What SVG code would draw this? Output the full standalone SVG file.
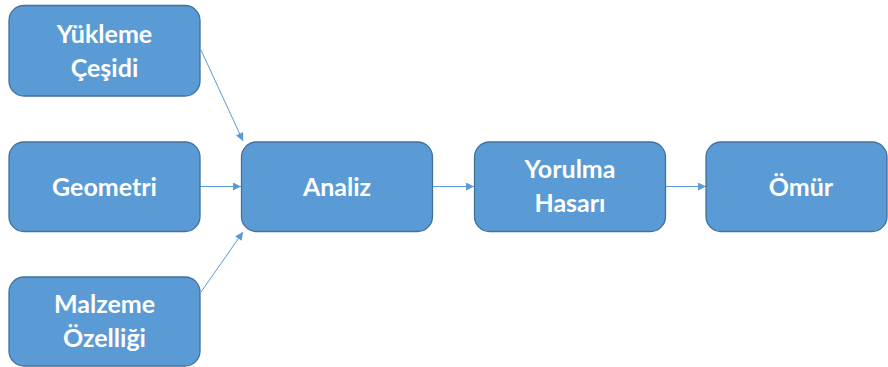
<svg xmlns="http://www.w3.org/2000/svg" width="888" height="367" viewBox="0 0 888 367">
<style>
.box{fill:#5B9BD5;stroke:#41719C;stroke-width:1.3}
.t{fill:#fff;font-family:Lato,"Open Sans","Liberation Sans",sans-serif;font-weight:bold;font-size:25px;text-anchor:middle}
.c{stroke:#5B9BD5;stroke-width:1;fill:none;marker-end:url(#ah)}
</style>
<defs>
<marker id="ah" viewBox="0 0 10 10" refX="10" refY="5" markerWidth="10" markerHeight="8" markerUnits="userSpaceOnUse" orient="auto">
<path d="M0,0 L10,5 L0,10 Z" fill="#5B9BD5"/>
</marker>
</defs>
<g id="connectors">
<line class="c" x1="201" y1="50" x2="243" y2="141"/>
<line class="c" x1="200" y1="186.5" x2="241" y2="186.5"/>
<line class="c" x1="201" y1="292" x2="243" y2="232"/>
<line class="c" x1="432" y1="186.5" x2="474" y2="186.5"/>
<line class="c" x1="666" y1="186.5" x2="706" y2="186.5"/>
</g>
<g id="yukleme">
<rect class="box" x="9" y="5.5" width="191" height="90.5" rx="15"/>
<text class="t" x="104.5" y="43">Yükleme</text>
<text class="t" x="104.5" y="77">Çeşidi</text>
</g>
<g id="geometri">
<rect class="box" x="9" y="142" width="191" height="89.5" rx="15"/>
<text class="t" x="104.5" y="196">Geometri</text>
</g>
<g id="malzeme">
<rect class="box" x="9" y="277" width="191" height="89" rx="15"/>
<text class="t" x="104.5" y="313">Malzeme</text>
<text class="t" x="104.5" y="347">Özelliği</text>
</g>
<g id="analiz">
<rect class="box" x="241.5" y="142" width="191" height="89.5" rx="15"/>
<text class="t" x="337" y="196">Analiz</text>
</g>
<g id="yorulma">
<rect class="box" x="474.5" y="142" width="191" height="89.5" rx="15"/>
<text class="t" x="570" y="178">Yorulma</text>
<text class="t" x="570" y="212">Hasarı</text>
</g>
<g id="omur">
<rect class="box" x="706" y="142" width="181" height="89.5" rx="15"/>
<text class="t" x="801" y="196">Ömür</text>
</g>
</svg>
